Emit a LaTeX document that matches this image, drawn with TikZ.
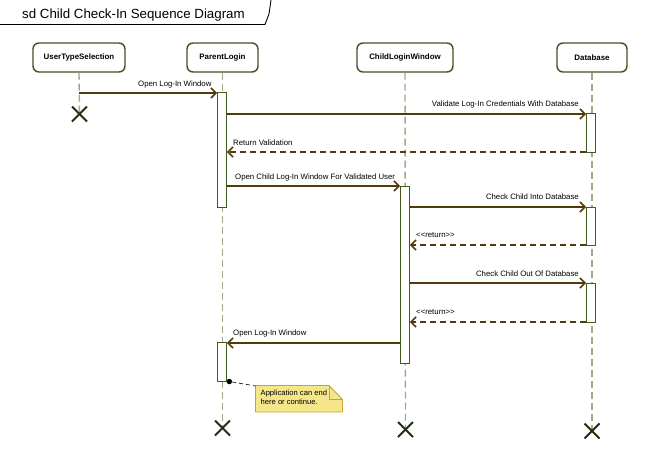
\documentclass[tikz,border=0pt]{standalone}
\usepackage{fontspec}
\setmainfont{Liberation Sans}
\usetikzlibrary{arrows.meta,calc}
\definecolor{msgc}{HTML}{523A0A}
\definecolor{actc}{HTML}{3E5C1E}
\definecolor{headc}{HTML}{3C5520}
\definecolor{lifec}{HTML}{A6A688}
\definecolor{xc}{HTML}{1E3010}
\definecolor{notefill}{HTML}{F5E68A}
\definecolor{noteline}{HTML}{C8A232}
\tikzset{
  head/.style={draw=headc, line width=1.4pt, rounded corners=6pt, fill=white,
    minimum height=29pt, inner sep=0pt, font=\fontsize{7.9}{9}\selectfont\bfseries},
  life/.style={draw=lifec, line width=1.4pt, dash pattern=on 7pt off 4pt},
  actbox/.style={draw=actc, line width=0.9pt, fill=white, minimum width=9pt, inner sep=0pt},
  msgline/.style={draw=msgc, line width=1.9pt, -{Straight Barb[length=5pt,width=10pt,line width=1.6pt]}},
  retline/.style={msgline, dash pattern=on 6pt off 4pt},
  lbl/.style={font=\fontsize{7.8}{9}\selectfont, inner sep=0pt},
  xmark/.style={draw=xc, line width=2pt},
}
\begin{document}
\begin{tikzpicture}[x=1pt,y=-1pt]
\useasboundingbox (0,0) rectangle (648,466);
% frame title
\node[font=\fontsize{13.3}{15}\selectfont, anchor=base west, inner sep=0pt] (title) at (22,18.5) {sd Child Check-In Sequence Diagram};
\draw[black, line width=0.9pt] (0,24.5) -- (265,24.5) -- (269,14) -- (271,0);
% heads
\node[head, minimum width=92pt] (uts) at (79,57.5) {UserTypeSelection};
\node[head, minimum width=71pt] (pl) at (222.5,57.5) {ParentLogin};
\node[head, minimum width=96pt] (clw) at (405,57.5) {ChildLoginWindow};
\node[head, minimum width=70pt] (db) at (592,57.5) {Database};
% destruction points
\coordinate (xu) at (79.5,114);
\coordinate (xp) at (222.5,428);
\coordinate (xc) at (405.5,429.5);
\coordinate (xd) at (592,431);
% lifelines
\draw[life] (uts.south) -- (xu);
\draw[life] (pl.south) -- (xp);
\draw[life] (clw.south) -- (xc);
\draw[life] (db.south) -- (xd);
% activations
\node[actbox, minimum height=115pt] (pa1) at (222,149.5) {};
\node[actbox, minimum height=177pt] (ca1) at (405,274.5) {};
\node[actbox, minimum height=39pt] (da1) at (591,132.5) {};
\node[actbox, minimum height=38pt] (da2) at (591,226) {};
\node[actbox, minimum height=39pt] (da3) at (591,302.5) {};
\node[actbox, minimum height=39pt] (pa2) at (222,362) {};
% messages
\draw[msgline] (uts |- 0,93) -- (pa1.west |- 0,93);
\node[lbl, anchor=base west] (l1) at (138,86.5) {Open Log-In Window};
\draw[msgline] (pa1.east |- 0,114) -- (da1.west |- 0,114);
\node[lbl, anchor=base east] (l2) at (579,106.5) {Validate Log-In Credentials With Database};
\draw[retline] (da1.west |- 0,152) -- (pa1.east |- 0,152);
\node[lbl, anchor=base west] (l3) at (233,145) {Return Validation};
\draw[msgline] (pa1.east |- 0,186) -- (ca1.west |- 0,186);
\node[lbl, anchor=base west] (l4) at (235,179) {Open Child Log-In Window For Validated User};
\draw[msgline] (ca1.east |- 0,207) -- (da2.west |- 0,207);
\node[lbl, anchor=base east] (l5) at (579,199.5) {Check Child Into Database};
\draw[retline] (da2.west |- 0,245) -- (ca1.east |- 0,245);
\node[lbl, anchor=base west] (l6) at (416,237.5) {<{}<return>{}>};
\draw[msgline] (ca1.east |- 0,283) -- (da3.west |- 0,283);
\node[lbl, anchor=base east] (l7) at (579,276) {Check Child Out Of Database};
\draw[retline] (da3.west |- 0,322) -- (ca1.east |- 0,322);
\node[lbl, anchor=base west] (l8) at (416,314) {<{}<return>{}>};
\draw[msgline] (ca1.west |- 0,343) -- (pa2.east |- 0,343);
\node[lbl, anchor=base west] (l9) at (233,335.5) {Open Log-In Window};
% destruction marks
\foreach \p in {xu,xp,xc,xd}{
  \draw[xmark] ($(\p)+(-7.5,-7.5)$) -- ($(\p)+(7.5,7.5)$);
  \draw[xmark] ($(\p)+(-7.5,7.5)$) -- ($(\p)+(7.5,-7.5)$);
}
% note
\draw[noteline, fill=notefill, line width=0.9pt] (255.5,385.5) -- (329,385.5) -- (342.5,399.5) -- (342.5,412) -- (255.5,412) -- cycle;
\draw[noteline, line width=0.9pt] (329,385.5) -- (329,399.5) -- (342.5,399.5);
\node[anchor=north west, inner sep=0pt, align=left, font=\fontsize{7.6}{9.5}\selectfont] (note) at (260.5,389.5) {Application can end\\here or continue.};
\coordinate (notecorner) at (255.5,386);
\node[circle, fill=black, inner sep=0pt, minimum size=5.5pt] (dot) at (229.3,381.5) {};
\draw[black, line width=0.6pt, dash pattern=on 4pt off 3pt] (dot) -- (notecorner);
\end{tikzpicture}
\end{document}
